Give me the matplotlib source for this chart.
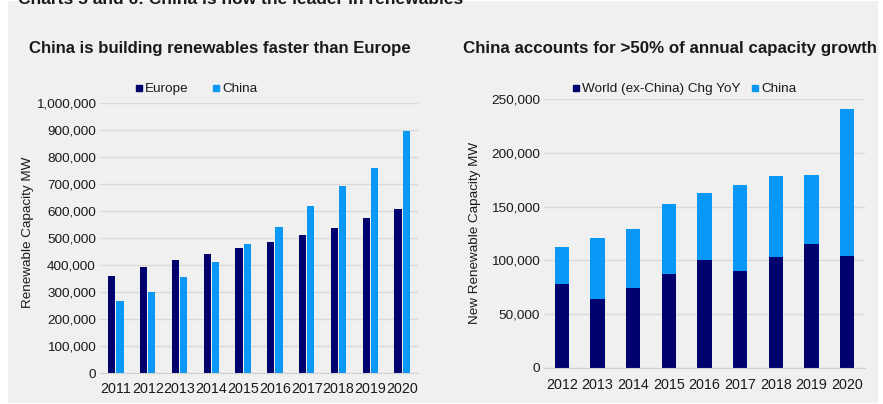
import matplotlib
matplotlib.use("Agg")
import matplotlib.pyplot as plt
from matplotlib.lines import Line2D
from matplotlib.patches import Rectangle
from matplotlib.ticker import FuncFormatter
import numpy as np

plt.rcParams['font.family'] = ['Liberation Sans', 'DejaVu Sans']

# ---- data ----
years_left = ['2011', '2012', '2013', '2014', '2015', '2016', '2017', '2018', '2019', '2020']
europe = [358000, 393000, 419000, 440000, 463000, 486000, 511000, 536000, 573000, 607000]
china_total = [267000, 300000, 357000, 412000, 478000, 541000, 620000, 694000, 758000, 895000]

years_right = ['2012', '2013', '2014', '2015', '2016', '2017', '2018', '2019', '2020']
world_ex_china = [77900, 63700, 73900, 87800, 100400, 89900, 103200, 115600, 104100]
china_new = [34300, 57100, 55300, 64500, 62100, 79800, 74800, 63600, 136300]

DARK = '#00006f'
LIGHT = '#0a98f7'
BG = '#f0f0f0'
GRID = '#d9d9d9'
TXT = '#1a1a1a'

W, H = 883, 404
fig = plt.figure(figsize=(W / 100, H / 100), dpi=100)
fig.patch.set_facecolor('white')
fig.patches.append(Rectangle((8 / W, 1 / H), (878 - 8) / W, (403 - 1) / H,
                             transform=fig.transFigure, facecolor=BG,
                             edgecolor='none', zorder=-10))

# cropped main title at very top (as in the reference)
fig.text(18 / W, 1 - 4 / H, 'Charts 5 and 6: China is now the leader in renewables',
         fontsize=12.5, fontweight='bold', color=TXT, ha='left', va='baseline')

fmt = FuncFormatter(lambda v, p: f'{int(v):,}')


def style(ax):
    ax.set_facecolor('none')
    for s in ['top', 'right', 'left']:
        ax.spines[s].set_visible(False)
    ax.spines['bottom'].set_color('#d0d0d0')
    ax.yaxis.grid(True, color=GRID, linewidth=1)
    ax.set_axisbelow(True)
    ax.tick_params(axis='both', length=0, labelsize=9.7, colors=TXT, pad=3)
    ax.tick_params(axis='x', labelsize=10.3)
    ax.yaxis.set_major_formatter(fmt)


# ---- left chart ----
axL = fig.add_axes([100 / W, 1 - 373 / H, 318 / W, 270 / H])
x = np.arange(len(years_left))
bw = 0.23
axL.bar(x - 0.13, europe, width=bw, color=DARK, label='Europe')
axL.bar(x + 0.13, china_total, width=bw, color=LIGHT, label='China')
axL.set_xlim(-0.5, len(years_left) - 0.5)
axL.set_ylim(0, 1000000)
axL.set_yticks(np.arange(0, 1000001, 100000))
axL.set_xticks(x)
axL.set_xticklabels(years_left)
style(axL)
axL.tick_params(axis='x', pad=6.5)
fig.text(28 / W, 1 - 232 / H, 'Renewable Capacity MW', rotation=90,
         ha='center', va='center', fontsize=9.7, color=TXT)
fig.text(220 / W, 1 - 48 / H, 'China is building renewables faster than Europe',
         ha='center', va='center', fontsize=12.1, fontweight='bold', color=TXT)
hL = [Line2D([], [], marker='s', linestyle='none', color=DARK, markersize=5),
      Line2D([], [], marker='s', linestyle='none', color=LIGHT, markersize=5)]
axL.legend(hL, ['Europe', 'China'], ncol=2, frameon=False, fontsize=9.7,
           loc='center', bbox_to_anchor=(196 / W, 1 - 89 / H),
           bbox_transform=fig.transFigure, handlelength=0.6, handletextpad=0.15,
           columnspacing=1.75, labelcolor=TXT)

# ---- right chart ----
axR = fig.add_axes([544 / W, 1 - 368 / H, 321 / W, 269 / H])
xr = np.arange(len(years_right))
axR.bar(xr, world_ex_china, width=0.4, color=DARK, label='World (ex-China) Chg YoY')
axR.bar(xr, china_new, width=0.4, bottom=world_ex_china, color=LIGHT, label='China')
axR.set_xlim(-0.5, len(years_right) - 0.5)
axR.set_ylim(0, 250000)
axR.set_yticks(np.arange(0, 250001, 50000))
axR.set_xticks(xr)
axR.set_xticklabels(years_right)
style(axR)
axR.tick_params(axis='x', pad=7)
fig.text(475 / W, 1 - 233 / H, 'New Renewable Capacity MW', rotation=90,
         ha='center', va='center', fontsize=9.7, color=TXT)
fig.text(670 / W, 1 - 48 / H, 'China accounts for >50% of annual capacity growth',
         ha='center', va='center', fontsize=12.2, fontweight='bold', color=TXT)
hR = [Line2D([], [], marker='s', linestyle='none', color=DARK, markersize=5),
      Line2D([], [], marker='s', linestyle='none', color=LIGHT, markersize=5)]
axR.legend(hR, ['World (ex-China) Chg YoY', 'China'], ncol=2, frameon=False,
           fontsize=9.7, loc='center', bbox_to_anchor=(684 / W, 1 - 89 / H),
           bbox_transform=fig.transFigure, handlelength=0.6, handletextpad=0.15,
           columnspacing=0.8, labelcolor=TXT)

fig.savefig('out.png', dpi=100, facecolor=fig.get_facecolor())
